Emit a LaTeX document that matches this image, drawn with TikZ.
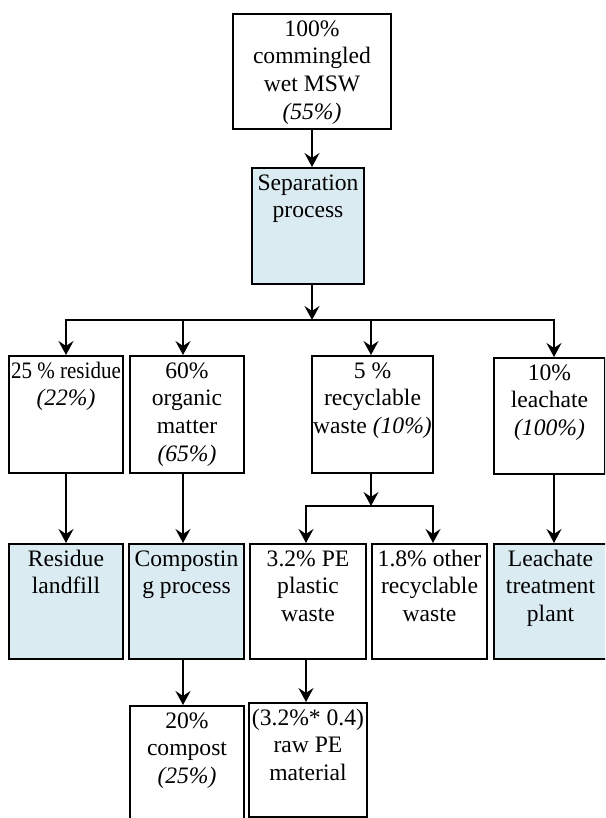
\documentclass[tikz,border=0pt]{standalone}
\usepackage{fontspec}
\usepackage{graphicx}
\setmainfont{Liberation Serif}
\usetikzlibrary{arrows.meta}
\definecolor{procblue}{RGB}{218,235,242}
\tikzset{
  boxbase/.style={draw=black, line width=2pt, inner sep=0pt, anchor=north west},
  plainbox/.style={boxbase, fill=white},
  procbox/.style={boxbase, fill=procblue},
  lbl/.style={anchor=north, align=center, inner sep=0pt, font=\fontsize{23.6}{27.7}\selectfont},
  flow/.style={line width=2pt, -{Stealth[length=14pt,width=15pt,inset=5pt]}},
  link/.style={line width=2pt, line cap=rect},
}
\newcommand\flowbox[7]{%
  \node[#2, minimum width=#5pt, minimum height=#6pt] (#1) at (#3,#4) {};
  \node[lbl] (#1-t) at (#1.north) {\rule{0pt}{23pt}#7};
}
\begin{document}
\begin{tikzpicture}[x=1pt,y=-1pt]
\useasboundingbox (0,0) rectangle (605,818);
\clip (0,0) rectangle (605,818);
\fill[white] (0,0) rectangle (605,818);

% boxes
\flowbox{top}{plainbox}{232}{13}{158}{115}{100\%\\commingled\\wet MSW\\\textit{(55\%)}}
\flowbox{sep}{procbox}{251}{167}{112}{116}{Separation\\process}

\flowbox{res}{plainbox}{8}{355}{114}{117}{\scalebox{0.89}[1]{25 \% residue}\\\textit{(22\%)}}
\flowbox{org}{plainbox}{129}{355}{114}{117}{60\%\\organic\\matter\\\textit{(65\%)}}
\flowbox{rec}{plainbox}{311}{355}{121}{117}{5 \%\\recyclable\\waste \textit{(10\%)}}
\flowbox{lea}{plainbox}{493}{357}{111}{116}{10\%\\leachate\\\textit{(100\%)}}

\flowbox{resl}{procbox}{8}{543}{114}{115}{Residue\\landfill}
\flowbox{comp}{procbox}{128}{543}{115}{115}{Compostin\\g process}
\flowbox{pe}{plainbox}{249}{543}{116}{115}{3.2\% PE\\plastic\\waste}
\flowbox{oth}{plainbox}{371}{543}{115}{115}{1.8\% other\\recyclable\\waste}
\flowbox{leap}{procbox}{493}{543}{113}{115}{Leachate\\treatment\\plant}

\flowbox{compost}{plainbox}{129}{705}{114}{125}{20\%\\compost\\\textit{(25\%)}}
\flowbox{raw}{plainbox}{248}{702}{118}{114}{(3.2\%* 0.4)\\raw PE\\material}

% junction coordinates
\coordinate (hub) at (312,320);
\coordinate (b1) at (66,320);
\coordinate (b2) at (183,320);
\coordinate (b3) at (371,320);
\coordinate (b4) at (554,320);
\coordinate (s2) at (371,506);
\coordinate (sl) at (306,506);
\coordinate (sr) at (433,506);

% connectors
\draw[flow] (top.south) -- (top.south |- sep.north);
\draw[flow] (sep.south -| hub) -- (hub);
\draw[link] (b1) -- (b4);
\draw[flow] (b1) -- (b1 |- res.north);
\draw[flow] (b2) -- (b2 |- org.north);
\draw[flow] (b3) -- (b3 |- rec.north);
\draw[flow] (b4) -- (b4 |- lea.north);

\draw[flow] (b1 |- res.south) -- (b1 |- resl.north);
\draw[flow] (b2 |- org.south) -- (b2 |- comp.north);
\draw[flow] (s2 |- rec.south) -- (s2);
\draw[link] (sl) -- (sr);
\draw[flow] (sl) -- (sl |- pe.north);
\draw[flow] (sr) -- (sr |- oth.north);
\draw[flow] (b4 |- lea.south) -- (b4 |- leap.north);

\draw[flow] (b2 |- comp.south) -- (b2 |- compost.north);
\draw[flow] (sl |- pe.south) -- (sl |- raw.north);
\end{tikzpicture}
\end{document}
